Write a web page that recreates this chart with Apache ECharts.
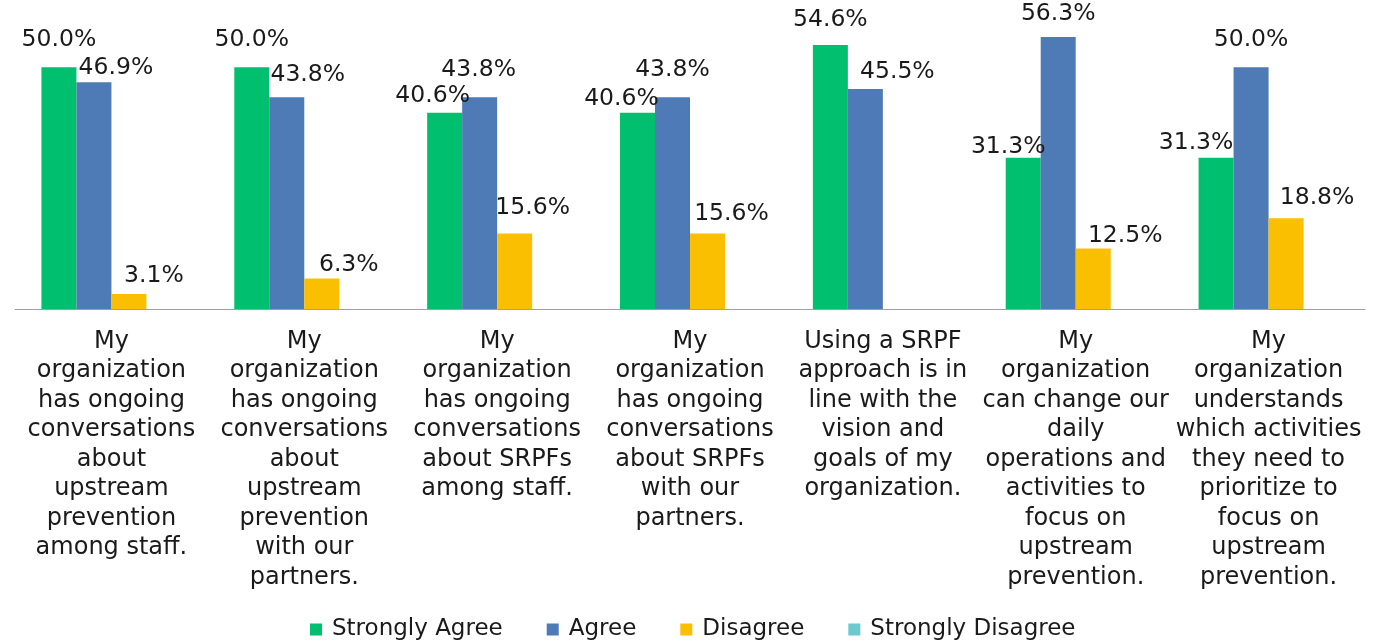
<!DOCTYPE html>
<html>
<head>
<meta charset="utf-8">
<script src="https://cdn.jsdelivr.net/npm/echarts@6/dist/echarts.min.js"></script>
<style>
  html, body { margin: 0; padding: 0; background: #fff; }
  #chart { width: 1380px; height: 642px; }
</style>
</head>
<body>
<div id="chart"></div>
<script>
// categories (line breaks as in the original)
const categories = [
  "My\norganization\nhas ongoing\nconversations\nabout\nupstream\nprevention\namong staff.",
  "My\norganization\nhas ongoing\nconversations\nabout\nupstream\nprevention\nwith our\npartners.",
  "My\norganization\nhas ongoing\nconversations\nabout SRPFs\namong staff.",
  "My\norganization\nhas ongoing\nconversations\nabout SRPFs\nwith our\npartners.",
  "Using a SRPF\napproach is in\nline with the\nvision and\ngoals of my\norganization.",
  "My\norganization\ncan change our\ndaily\noperations and\nactivities to\nfocus on\nupstream\nprevention.",
  "My\norganization\nunderstands\nwhich activities\nthey need to\nprioritize to\nfocus on\nupstream\nprevention."
]

// percentages per series
const stronglyAgree = [50.0, 50.0, 40.6, 40.6, 54.6, 31.3, 31.3]
const agree = [46.9, 43.8, 43.8, 43.8, 45.5, 56.3, 50.0]
const disagree = [3.1, 6.3, 15.6, 15.6, 0, 12.5, 18.8]
const stronglyDisagree = [0, 0, 0, 0, 0, 0, 0]

// label nudges (the original labels were moved by hand)
const nudgeSA = [[0, -10], [0, -10], [-12, 0], [-16, 3], [0, -8], [-15, 6], [-20, 2]]
const nudgeA = [[22, 3], [21, -5], [-1, -10], [0, -10], [32, 0], [0, -6], [0, -10]]
const nudgeD = [[25, -1], [27, 3], [18, -9], [24, -3], [0, 0], [32, 4], [31, -3]]

const labelFont = "DejaVu Sans"

const withNudge = (values, nudges) =>
  values.map((v, i) => ({ value: v, label: { offset: nudges ? nudges[i] : [0, 0] } }))

const makeSeries = (name, color, values, nudges) => ({
  name: name,
  type: "bar",
  barWidth: 35,
  barGap: "0%",
  itemStyle: { color: color },
  data: withNudge(values, nudges),
  label: {
    show: true,
    position: "top",
    distance: 5,
    fontFamily: labelFont,
    fontSize: 23.5,
    color: "#1a1a1a",
    formatter: (p) => (p.value > 0 ? p.value.toFixed(1) + "%" : "")
  }
})

const chart = echarts.init(document.getElementById("chart"))

chart.setOption({
  animation: false,
  grid: { left: 15, right: 15, top: 19, bottom: 333 },
  legend: {
    left: 305,
    top: 613,
    itemWidth: 12,
    itemHeight: 12,
    itemGap: 44,
    icon: "rect",
    textStyle: { fontFamily: labelFont, fontSize: 23, color: "#1a1a1a", padding: [0, 0, 0, 5] },
    data: ["Strongly Agree", "Agree", "Disagree", "Strongly Disagree"]
  },
  xAxis: {
    type: "category",
    data: categories,
    axisTick: { show: false },
    axisLine: { lineStyle: { color: "#a0a0a0", width: 1 } },
    axisLabel: {
      interval: 0,
      margin: 18,
      fontFamily: labelFont,
      fontSize: 24,
      lineHeight: 29.5,
      color: "#1a1a1a",
      align: "center"
    }
  },
  yAxis: {
    type: "value",
    min: 0,
    max: 60,
    show: false,
    splitLine: { show: false }
  },
  series: [
    makeSeries("Strongly Agree", "#00BF6F", stronglyAgree, nudgeSA),
    makeSeries("Agree", "#4E7AB5", agree, nudgeA),
    makeSeries("Disagree", "#F9BF00", disagree, nudgeD),
    makeSeries("Strongly Disagree", "#6CC9CD", stronglyDisagree, null)
  ]
})
</script>
</body>
</html>
